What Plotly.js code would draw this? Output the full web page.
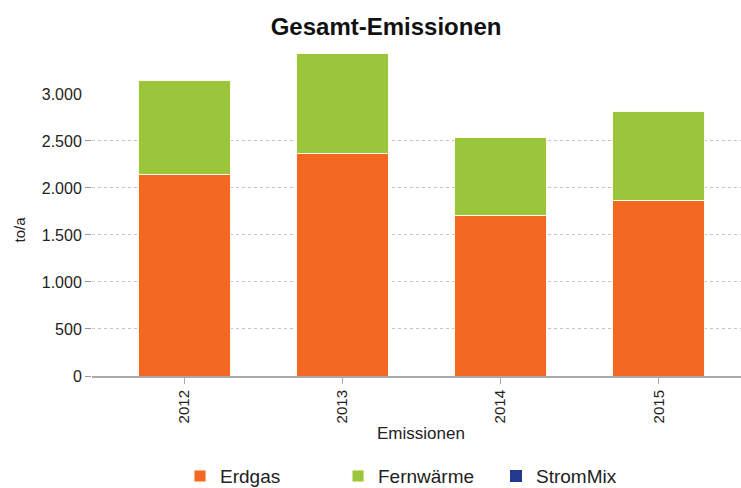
<!DOCTYPE html>
<html>
<head>
<meta charset="utf-8">
<script src="https://cdn.plot.ly/plotly-3.0.1.min.js"></script>
<style>html,body{margin:0;padding:0;background:#fff;}#chart{width:741px;height:488px;}</style>
</head>
<body>
<div id="chart"></div>
<script>
const years = ['2012', '2013', '2014', '2015'];
const erdgas = [2146, 2365, 1711, 1869];
const fernwaerme = [992, 1064, 826, 943];
const strommix = [0, 0, 0, 0];
const yTicksMain = [0, 500, 1000, 1500, 2000, 2500];
const yTicksTop = [3000];

const fontFam = '"Liberation Sans", Arial, sans-serif';

const traces = [
  {type: 'bar', name: 'Erdgas', x: years, y: erdgas,
   marker: {color: '#f26722', line: {color: '#fffbe8', width: 1}}},
  {type: 'bar', name: 'Fernwärme', x: years, y: fernwaerme,
   marker: {color: '#9bc63b', line: {color: '#fffbe8', width: 1}}},
  {type: 'bar', name: 'StromMix', x: years, y: strommix, yaxis: 'y2',
   marker: {color: '#213a8f', line: {width: 0}}}
];

const yMax = 3574;
const layout = {
  width: 741, height: 488,
  margin: {l: 92, r: 0, t: 40, b: 112, autoexpand: false},
  paper_bgcolor: '#ffffff', plot_bgcolor: '#ffffff',
  separators: ',.',
  barmode: 'stack',
  bargap: 0.42,
  showlegend: true,
  font: {family: fontFam, color: '#222'},
  title: {text: '<b>Gesamt-Emissionen</b>', font: {size: 24, color: '#111', family: fontFam},
          x: 0.521, xanchor: 'center', y: 0.945, yanchor: 'middle', xref: 'container', yref: 'container'},
  xaxis: {type: 'category', range: [-0.583, 3.52], showline: true, linecolor: '#aaaaaa', linewidth: 2,
          ticks: 'outside', ticklen: 6, tickcolor: '#aaaaaa', tickangle: -90,
          tickfont: {size: 15, color: '#222'}, showgrid: false, zeroline: false, fixedrange: true},
  yaxis: {range: [0, yMax], tickmode: 'array', tickvals: yTicksMain, tickformat: ',d',
          ticks: 'outside', ticklen: 6, tickcolor: '#999999', tickfont: {size: 16, color: '#222'},
          showgrid: true, gridcolor: '#c4c4c4', griddash: '3px,3px', gridwidth: 1,
          zeroline: false, showline: false},
  yaxis2: {overlaying: 'y', side: 'left', anchor: 'x', range: [0, yMax], tickmode: 'array',
           tickvals: yTicksTop, tickformat: ',d', ticks: 'outside', ticklen: 6,
           tickcolor: 'rgba(0,0,0,0)', tickfont: {size: 16, color: '#222'},
           showgrid: false, zeroline: false, showline: false},
  legend: {orientation: 'h', x: 0.1356, xanchor: 'left', y: -0.298, yanchor: 'middle',
           font: {size: 19, color: '#222'}, entrywidth: 113, entrywidthmode: 'pixels',
           traceorder: 'normal', bgcolor: 'rgba(0,0,0,0)'},
  annotations: [
    {text: 'to/a', xref: 'paper', yref: 'paper', x: -0.111, y: 0.436, textangle: -90,
     showarrow: false, font: {size: 15, color: '#222'}, xanchor: 'center', yanchor: 'middle'},
    {text: 'Emissionen', xref: 'paper', yref: 'paper', x: 0.507, y: -0.1726,
     showarrow: false, font: {size: 17, color: '#222'}, xanchor: 'center', yanchor: 'middle'}
  ]
};

Plotly.newPlot('chart', traces, layout, {displayModeBar: false, staticPlot: true});
</script>
</body>
</html>
